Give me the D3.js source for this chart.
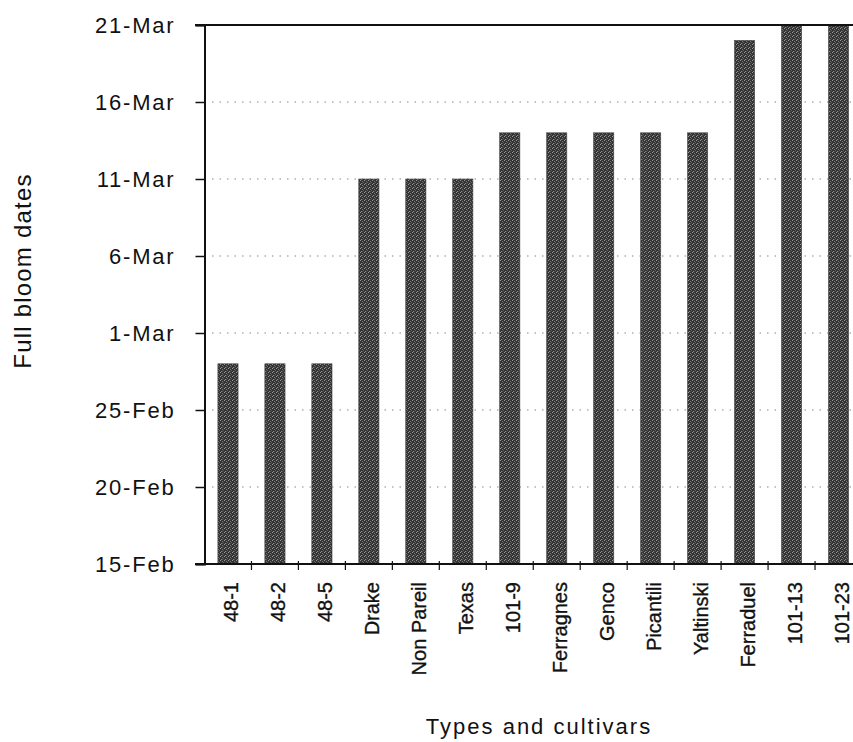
<!DOCTYPE html>
<html><head><meta charset="utf-8">
<script src="https://cdn.jsdelivr.net/npm/d3@7/dist/d3.min.js"></script>
<style>
html,body{margin:0;padding:0;background:#fff;}
svg{display:block;}
text{font-family:"Liberation Sans",Arial,Helvetica,sans-serif;fill:#111;}
</style></head>
<body>
<svg id="chart" width="853" height="742"></svg>
<script>
// Data: days after 15-Feb (axis uses equal 5-day steps)
const categories = ["48-1","48-2","48-5","Drake","Non Pareil","Texas","101-9","Ferragnes","Genco","Picantili","Yaltinski","Ferraduel","101-13","101-23"];
const bloomDay = [13,13,13,25,25,25,28,28,28,28,28,34,35,35];
const tickValues = [0,5,10,15,20,25,30,35];
const tickLabels = ["15-Feb","20-Feb","25-Feb","1-Mar","6-Mar","11-Mar","16-Mar","21-Mar"];

(function(){
const svg = d3.select("#chart");
const pL = 204.5, pR = 862, pT = 25, pB = 564;

const x = d3.scaleBand().domain(categories).range([pL, pR]).paddingInner(0.57).paddingOuter(0.285);
const y = d3.scaleLinear().domain([0,35]).range([pB, pT]);

// texture pattern for bars
const defs = svg.append("defs");
const pat = defs.append("pattern").attr("id","stip").attr("patternUnits","userSpaceOnUse")
  .attr("width",4).attr("height",4);
pat.append("rect").attr("width",4).attr("height",4).attr("fill","#343434");
[[0,0,"#9a9a9a"],[2,1,"#777"],[1,3,"#888"],[3,2,"#606060"],[2,3,"#505050"]].forEach(([px,py,c])=>{
  pat.append("rect").attr("x",px).attr("y",py).attr("width",1).attr("height",1).attr("fill",c);
});

// grid lines (dotted)
svg.append("g").selectAll("line").data(tickValues.filter(v=>v>0 && v<35)).join("line")
  .attr("x1",pL).attr("x2",853).attr("y1",d=>y(d)).attr("y2",d=>y(d))
  .attr("stroke","#888").attr("stroke-width",1.2).attr("stroke-dasharray","1.5,6");

// bars
svg.append("g").selectAll("rect").data(categories).join("rect")
  .attr("x",d=>x(d)).attr("width",x.bandwidth())
  .attr("y",(d,i)=>y(bloomDay[i])).attr("height",(d,i)=>pB-y(bloomDay[i]))
  .attr("fill","url(#stip)").attr("stroke","#444").attr("stroke-width",0.6);

// y axis
const yAxis = d3.axisLeft(y).tickValues(tickValues).tickSize(9).tickPadding(20)
  .tickFormat((d,i)=>tickLabels[i]);
const gy = svg.append("g").attr("transform",`translate(${pL},0)`).call(yAxis);
gy.select(".domain").attr("stroke","#111").attr("stroke-width",2);
gy.selectAll(".tick line").attr("stroke","#111").attr("stroke-width",1.5);
gy.selectAll(".tick text").attr("font-size",22).attr("letter-spacing","1.8px")
  .attr("font-family","Liberation Sans, Arial, sans-serif").attr("fill","#111");

// top border line
svg.append("line").attr("x1",195).attr("x2",853).attr("y1",y(35)).attr("y2",y(35))
  .attr("stroke","#111").attr("stroke-width",2);

// x axis
const xAxis = d3.axisBottom(x).tickSize(0).tickPadding(0);
const gx = svg.append("g").attr("transform",`translate(0,${pB})`).call(xAxis);
gx.select(".domain").remove();
svg.append("line").attr("x1",195).attr("x2",853).attr("y1",pB).attr("y2",pB)
  .attr("stroke","#111").attr("stroke-width",2);
// boundary ticks
const step = x.step();
const bounds = d3.range(categories.length).map(i=>x(categories[i]) + x.bandwidth() + (step - x.bandwidth())/2);
svg.append("g").selectAll("line").data(bounds.filter(b=>b<853)).join("line")
  .attr("x1",d=>d).attr("x2",d=>d).attr("y1",pB-3).attr("y2",pB+6)
  .attr("stroke","#111").attr("stroke-width",1.2);
gx.selectAll(".tick text")
  .attr("font-size",20).attr("fill","#111").attr("stroke","#111").attr("stroke-width",0.35)
  .attr("font-family","Liberation Sans, Arial, sans-serif")
  .attr("text-anchor","end")
  .attr("transform","translate(3,18) rotate(-90)")
  .attr("dy","0.35em").attr("y",0).attr("x",0);

// axis titles
svg.append("text").attr("x",539).attr("y",734).attr("text-anchor","middle")
  .attr("font-size",22).attr("letter-spacing","2px").text("Types and cultivars");
svg.append("text").attr("transform","translate(31,271) rotate(-90)").attr("text-anchor","middle")
  .attr("font-size",24).attr("letter-spacing","1.2px").text("Full bloom dates");
})();
</script>
</body></html>
